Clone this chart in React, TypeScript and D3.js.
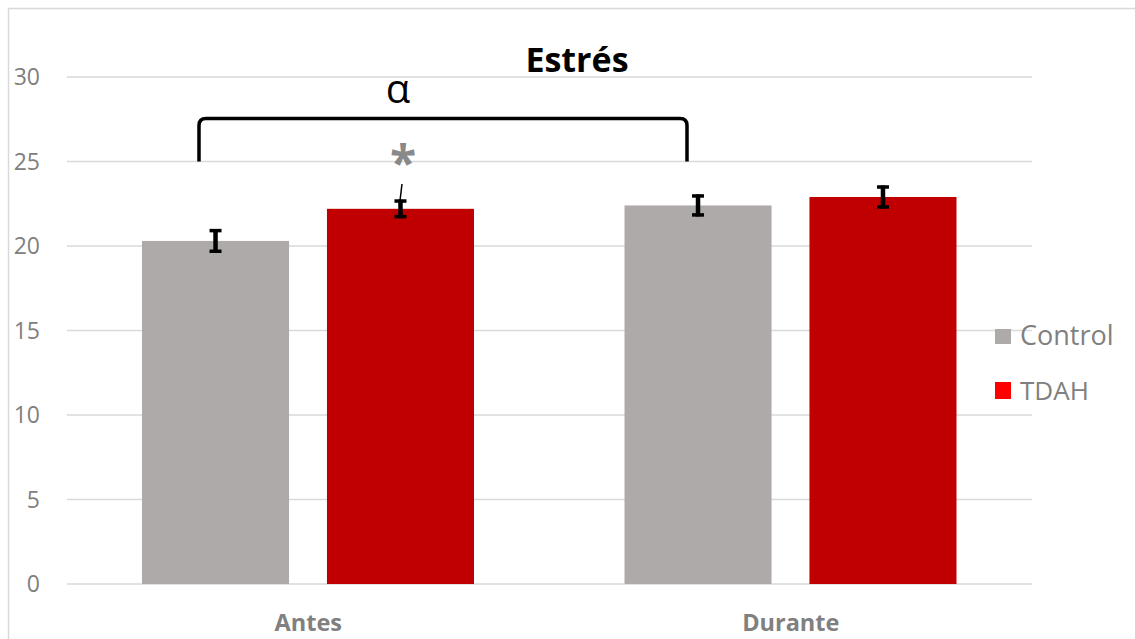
import React from "react";
import * as d3 from "d3";

// Stress scores before and during, by group
const categories = ["Antes", "Durante"];
const seriesNames = ["Control", "TDAH"];
const controlValues = [20.3, 22.4];
const tdahValues = [22.2, 22.9];
const controlErrors = [0.7, 0.65];
const tdahErrors = [0.55, 0.68];
const yTicks = [0, 5, 10, 15, 20, 25, 30];

const W = 1135;
const H = 639;
const plotLeft = 67;
const plotRight = 1032;
const plotTop = 77;
const plotBottom = 584;

const barColors: Record<string, string> = { Control: "#AEAAAA", TDAH: "#C00000" };
const legendColors: Record<string, string> = { Control: "#AEAAAA", TDAH: "#FF0000" };
const textGray = "#808080";
const gridColor = "#D9D9D9";
const font = "'Open Sans', 'Noto Sans', sans-serif";

export default function App() {
  const y = d3.scaleLinear().domain([0, 30]).range([plotBottom, plotTop]);
  const x0 = d3.scaleBand<string>().domain(categories).range([plotLeft, plotRight]);
  const x1 = d3
    .scaleBand<string>()
    .domain(seriesNames)
    .range([75, x0.bandwidth() - 75.5])
    .paddingInner(0.205);
  const bw = x1.bandwidth();

  const rows = categories.flatMap((c, i) => [
    { cat: c, s: "Control", v: controlValues[i], e: controlErrors[i] },
    { cat: c, s: "TDAH", v: tdahValues[i], e: tdahErrors[i] },
  ]);

  // significance bracket between the two Control bars
  const bl = (x0("Antes") as number) + 132;
  const br = (x0("Durante") as number) + 137.5;
  const bTop = y(27.55);
  const bBot = y(25.0);
  const r = 7;
  const bracket = `M${bl},${bBot} L${bl},${bTop + r} Q${bl},${bTop} ${bl + r},${bTop} L${br - r},${bTop} Q${br},${bTop} ${br},${bTop + r} L${br},${bBot}`;

  const tdahAntesX = (x0("Antes") as number) + (x1("TDAH") as number) + bw / 2;

  return (
    <svg
      width={W}
      height={H}
      style={{ position: "fixed", left: 0, top: 0, background: "#fff" }}
      fontFamily={font}
    >
      <rect x={8.5} y={8.5} width={W} height={H} fill="#fff" stroke={gridColor} strokeWidth={1.5} />

      {/* gridlines and y labels */}
      {yTicks.map((t) => (
        <g key={t}>
          <line x1={plotLeft} x2={plotRight} y1={y(t)} y2={y(t)} stroke={gridColor} strokeWidth={1.5} />
          <text x={40} y={y(t)} dy="0.36em" textAnchor="end" fontSize={23} fill={textGray}>
            {t}
          </text>
        </g>
      ))}

      {/* bars */}
      {rows.map((d) => (
        <rect
          key={d.cat + d.s}
          x={(x0(d.cat) as number) + (x1(d.s) as number)}
          y={y(d.v)}
          width={bw}
          height={y(0) - y(d.v)}
          fill={barColors[d.s]}
        />
      ))}

      {/* error bars */}
      {rows.map((d) => {
        const cx = (x0(d.cat) as number) + (x1(d.s) as number) + bw / 2;
        const y1 = y(d.v + d.e);
        const y2 = y(d.v - d.e);
        return (
          <g key={"e" + d.cat + d.s} stroke="#000">
            <line x1={cx} x2={cx} y1={y1} y2={y2} strokeWidth={4.5} />
            <line x1={cx - 6} x2={cx + 6} y1={y1 + 1.5} y2={y1 + 1.5} strokeWidth={3.5} />
            <line x1={cx - 6} x2={cx + 6} y1={y2 - 1.5} y2={y2 - 1.5} strokeWidth={3.5} />
          </g>
        );
      })}

      {/* category labels */}
      {categories.map((c) => (
        <text
          key={c}
          x={(x0(c) as number) + x0.bandwidth() / 2}
          y={631}
          textAnchor="middle"
          fontSize={23.5}
          fontWeight="bold"
          fill={textGray}
        >
          {c}
        </text>
      ))}

      {/* title */}
      <text x={577} y={72} textAnchor="middle" fontSize={34} fontWeight="bold" fill="#000">
        Estrés
      </text>

      {/* annotations */}
      <path d={bracket} fill="none" stroke="#000" strokeWidth={3.5} />
      <text x={398} y={103} textAnchor="middle" fontSize={40} fill="#000">
        α
      </text>
      <text x={403} y={180} textAnchor="middle" fontSize={48} fontWeight="bold" fill="#898989">
        *
      </text>
      <line x1={tdahAntesX + 1.5} y1={184} x2={tdahAntesX - 0.5} y2={201} stroke="#000" strokeWidth={1.5} />

      {/* legend */}
      {seriesNames.map((s, i) => (
        <g key={s}>
          <rect x={995} y={i === 0 ? 329 : 382} width={16} height={i === 0 ? 15 : 17} fill={legendColors[s]} />
          <text x={1020} y={i === 0 ? 345 : 400} fontSize={i === 0 ? 27 : 26} fill={textGray}>
            {s}
          </text>
        </g>
      ))}
    </svg>
  );
}
